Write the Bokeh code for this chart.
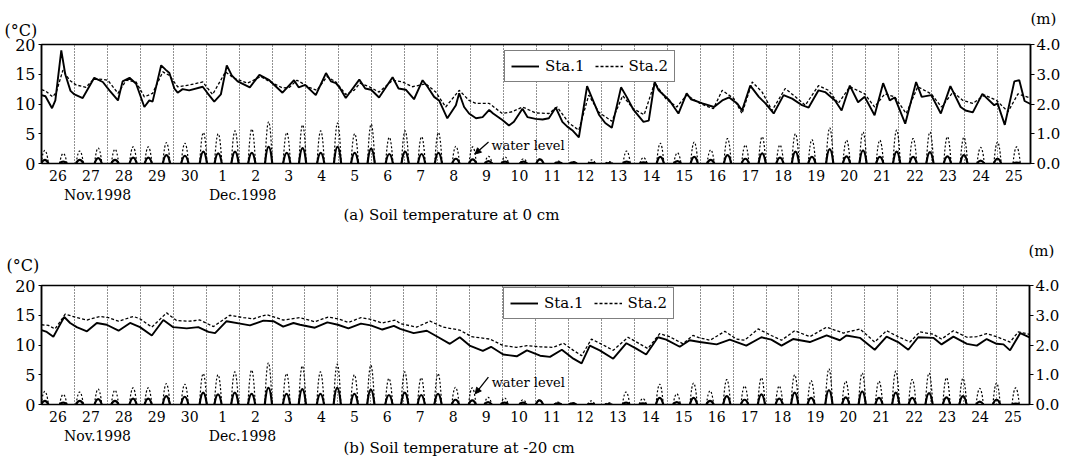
from bokeh.plotting import figure
from bokeh.models import (Range1d, LinearAxis, FixedTicker, Grid, Legend, LegendItem,
                          Label, Arrow, NormalHead, Title, ColumnDataSource,
                          NumeralTickFormatter)
from bokeh.layouts import column
from bokeh.embed import file_html
from bokeh.resources import INLINE

FONT = "DejaVu Serif"

# ---------------- data ----------------
days = ["26", "27", "28", "29", "30", "1", "2", "3", "4", "5", "6", "7", "8", "9", "10",
        "11", "12", "13", "14", "15", "16", "17", "18", "19", "20", "21", "22", "23", "24", "25"]
month_labels = ["Nov.1998", "Dec.1998"]
month_at = [1.7, 6.1]           # day position (days since 26 Nov 00:00) under which month is written
temp_ticks = [0, 5, 10, 15, 20]
level_ticks = [0, 1, 2, 3, 4]

# (a) soil temperature at 0 cm : (day, degC)
a_sta1 = [
    (0.00, 11.5), (0.12, 11.3), (0.32, 9.3), (0.42, 10.6), (0.60, 19.0), (0.72, 15.0), (0.88, 12.2),
    (1.00, 11.6), (1.25, 11.0), (1.60, 14.4), (1.86, 13.7),
    (2.06, 12.3), (2.32, 10.6), (2.46, 13.8), (2.67, 14.4), (2.87, 13.4),
    (3.12, 9.5), (3.27, 10.6), (3.37, 10.4), (3.63, 16.5), (3.78, 15.7), (3.88, 15.2),
    (4.03, 12.6), (4.13, 11.9), (4.28, 12.5), (4.48, 12.3), (4.89, 12.9),
    (5.04, 11.8), (5.24, 10.4), (5.44, 11.6), (5.62, 16.5), (5.77, 14.8), (5.95, 13.8),
    (6.32, 12.8), (6.61, 14.9), (6.91, 14.0),
    (7.31, 11.9), (7.66, 14.0), (7.80, 12.8),
    (8.00, 13.2), (8.32, 11.5), (8.63, 15.2), (8.78, 13.8), (8.93, 13.5),
    (9.05, 12.7), (9.23, 11.0), (9.64, 14.1), (9.82, 12.6),
    (10.00, 12.4), (10.24, 11.1), (10.65, 14.5), (10.83, 12.6),
    (11.05, 12.4), (11.30, 10.8), (11.56, 14.0), (11.71, 12.9), (11.91, 11.2),
    (12.06, 10.6), (12.31, 7.6), (12.57, 9.8), (12.67, 11.8), (12.82, 9.5), (12.97, 8.4),
    (13.18, 7.6), (13.38, 7.8), (13.58, 9.0), (13.70, 8.4), (13.98, 7.3),
    (14.18, 6.4), (14.33, 7.0), (14.59, 9.2), (14.74, 7.8), (14.99, 7.5),
    (15.20, 7.4), (15.39, 7.6), (15.60, 9.4), (15.80, 7.0), (15.95, 6.2),
    (16.10, 5.6), (16.30, 4.4), (16.55, 13.0), (16.70, 11.0), (16.91, 8.2),
    (17.10, 6.8), (17.30, 6.0), (17.58, 12.8), (17.75, 11.2), (17.96, 9.0),
    (18.26, 7.0), (18.42, 7.2), (18.60, 13.7), (18.72, 12.3),
    (19.05, 10.6), (19.32, 8.4), (19.57, 11.8), (19.70, 10.8),
    (20.05, 10.1), (20.40, 9.5), (20.65, 10.6), (20.86, 11.1),
    (21.10, 10.1), (21.25, 8.9), (21.50, 13.1), (21.76, 11.2), (21.96, 10.1),
    (22.21, 8.4), (22.51, 11.5), (22.77, 10.9),
    (23.07, 9.8), (23.27, 9.4), (23.57, 12.3), (23.77, 12.0),
    (24.07, 10.6), (24.27, 8.9), (24.52, 13.1), (24.77, 10.3), (24.97, 11.2),
    (25.27, 8.1), (25.53, 13.5), (25.73, 10.6), (25.88, 11.1),
    (26.20, 6.7), (26.53, 13.7), (26.70, 11.2), (26.99, 11.5),
    (27.28, 8.4), (27.57, 13.0), (27.88, 9.5),
    (28.03, 8.9), (28.25, 8.6), (28.54, 11.7), (28.90, 9.8),
    (29.00, 10.1), (29.22, 6.5), (29.51, 13.8), (29.66, 14.0), (29.82, 10.5), (30.00, 10.0),
]
a_sta2 = [
    (0.00, 12.4), (0.12, 12.2), (0.34, 11.2), (0.45, 12.0), (0.65, 15.7), (0.85, 14.0),
    (1.05, 13.2), (1.35, 12.8), (1.60, 14.3),
    (2.01, 14.0), (2.32, 11.8), (2.57, 14.0), (2.87, 13.7),
    (3.12, 11.2), (3.37, 11.8), (3.68, 15.4), (3.88, 14.8),
    (4.13, 12.9), (4.48, 13.2), (4.89, 13.7),
    (5.19, 11.6), (5.58, 15.4), (5.85, 14.3),
    (6.25, 13.5), (6.65, 14.6), (6.91, 13.8),
    (7.31, 12.7), (7.52, 12.8), (7.75, 14.0),
    (8.12, 12.8), (8.35, 12.3), (8.66, 14.6), (8.93, 13.7),
    (9.23, 11.6), (9.48, 12.3), (9.66, 13.5), (9.94, 12.9),
    (10.24, 12.0), (10.65, 14.0), (10.95, 13.7),
    (11.25, 12.9), (11.66, 13.4), (11.96, 12.0),
    (12.26, 9.5), (12.67, 12.3), (12.97, 10.6),
    (13.18, 10.1), (13.58, 10.1), (13.98, 8.4),
    (14.28, 8.7), (14.59, 9.5), (14.99, 8.5),
    (15.39, 8.4), (15.64, 9.5), (16.00, 6.8),
    (16.30, 5.6), (16.60, 11.5), (16.91, 8.6),
    (17.30, 7.1), (17.63, 11.4), (17.95, 9.2),
    (18.28, 8.2), (18.60, 13.6), (18.95, 10.8),
    (19.27, 9.5), (19.57, 11.5), (19.97, 10.1),
    (20.38, 9.2), (20.65, 12.3), (21.00, 10.9),
    (21.25, 8.4), (21.56, 13.7), (21.86, 12.0),
    (22.16, 8.9), (22.56, 12.6), (22.87, 11.2),
    (23.17, 9.8), (23.57, 13.1), (23.87, 12.3),
    (24.17, 10.1), (24.52, 12.9), (24.97, 11.7),
    (25.27, 9.5), (25.58, 11.7), (25.88, 11.2),
    (26.23, 8.4), (26.58, 12.9), (26.99, 11.7),
    (27.30, 9.5), (27.65, 12.0), (27.95, 10.6),
    (28.25, 10.1), (28.61, 11.5), (28.97, 10.6),
    (29.32, 8.7), (29.62, 11.7), (30.00, 11.0),
]

# (b) soil temperature at -20 cm : (day, degC)
b_sta1 = [
    (0.00, 12.5), (0.16, 12.2), (0.36, 11.4), (0.52, 13.0), (0.69, 14.7), (0.87, 13.7),
    (1.07, 13.0), (1.38, 12.3), (1.68, 13.7), (1.98, 13.4),
    (2.34, 12.4), (2.69, 13.7), (2.99, 13.0),
    (3.35, 11.6), (3.70, 14.2), (4.00, 13.0),
    (4.41, 12.8), (4.76, 13.0), (5.07, 12.2), (5.27, 12.0), (5.62, 14.0),
    (6.03, 13.6), (6.33, 13.3), (6.74, 14.1), (7.04, 14.0),
    (7.34, 13.1), (7.65, 13.7), (7.85, 13.4),
    (8.30, 12.9), (8.68, 13.8), (9.00, 13.4),
    (9.32, 12.8), (9.70, 13.6), (10.00, 13.3),
    (10.35, 12.6), (10.70, 13.2), (10.89, 12.7),
    (11.30, 12.0), (11.70, 12.4), (12.05, 11.3),
    (12.40, 10.2), (12.70, 11.3), (13.00, 9.9),
    (13.40, 9.0), (13.65, 9.7), (14.02, 8.4),
    (14.43, 8.1), (14.74, 9.1), (15.14, 8.2),
    (15.44, 8.0), (15.80, 9.2), (16.15, 7.7),
    (16.40, 6.9), (16.65, 9.9), (16.95, 9.1),
    (17.36, 7.7), (17.76, 10.3), (18.06, 9.4),
    (18.36, 8.4), (18.72, 11.3), (18.97, 10.9),
    (19.38, 9.7), (19.68, 10.8), (19.99, 10.5),
    (20.50, 10.1), (20.90, 10.9), (21.40, 9.9),
    (21.86, 11.3), (22.16, 10.9), (22.47, 9.9),
    (22.82, 11.0), (23.33, 10.5), (23.84, 11.6),
    (24.24, 10.8), (24.44, 11.6), (24.85, 11.2),
    (25.30, 9.2), (25.66, 11.4), (26.01, 10.5),
    (26.32, 9.2), (26.62, 11.3), (27.08, 11.2),
    (27.33, 10.1), (27.69, 11.4), (28.10, 10.2),
    (28.40, 9.9), (28.70, 11.0), (29.00, 10.2),
    (29.21, 10.1), (29.41, 9.1), (29.72, 12.0), (30.00, 11.3),
]
b_sta2 = [
    (0.00, 13.4), (0.21, 13.3), (0.41, 12.7), (0.55, 13.8), (0.72, 15.2),
    (1.07, 14.6), (1.38, 14.2), (1.78, 14.8),
    (2.03, 14.6), (2.34, 14.0), (2.79, 14.8), (2.99, 14.4),
    (3.35, 13.0), (3.80, 15.4), (4.10, 14.1),
    (4.50, 14.0), (4.81, 14.2), (5.22, 13.1), (5.72, 15.0),
    (6.13, 14.6), (6.43, 14.4), (6.84, 15.1),
    (7.34, 14.2), (7.85, 14.6), (8.30, 13.9), (8.70, 14.7),
    (9.00, 14.4), (9.32, 13.8), (9.70, 14.6), (10.00, 14.3),
    (10.35, 13.7), (10.75, 14.2), (10.89, 13.6),
    (11.39, 13.0), (11.80, 14.0), (12.20, 13.0),
    (12.70, 12.5), (13.06, 11.4), (13.61, 11.0),
    (14.02, 9.9), (14.43, 9.6), (14.74, 9.9),
    (15.14, 9.7), (15.54, 9.6), (15.85, 10.3),
    (16.15, 9.1), (16.40, 8.2), (16.70, 11.0), (16.95, 10.3),
    (17.36, 9.1), (17.81, 11.3), (18.16, 10.2),
    (18.41, 9.4), (18.77, 11.9), (19.07, 11.4),
    (19.48, 10.2), (19.78, 11.6), (19.99, 11.2),
    (20.30, 10.8), (20.75, 12.3), (21.10, 11.0),
    (21.35, 10.8), (21.76, 12.7), (22.16, 11.6),
    (22.47, 10.8), (22.87, 12.4), (23.33, 11.4),
    (23.84, 13.0), (24.35, 12.0), (24.85, 12.7),
    (25.30, 10.5), (25.66, 12.4), (26.01, 11.4),
    (26.37, 10.5), (26.67, 12.2), (27.08, 11.8),
    (27.33, 11.0), (27.69, 12.4), (28.10, 11.3),
    (28.40, 11.4), (28.70, 11.9), (29.00, 11.4),
    (29.41, 10.5), (29.66, 12.2), (30.00, 11.8),
]

# water level (m): times of the tidal peaks (day) and their heights at each station
wl_peak_day = [0.10, 0.66, 1.16, 1.72, 2.23, 2.78, 3.24, 3.79, 4.35, 4.91,
               5.36, 5.87, 6.38, 6.89, 7.44, 7.92, 8.47, 8.98, 9.50, 10.00,
               10.55, 11.03, 11.53, 12.04, 12.57, 13.08, 13.56, 14.06, 14.62, 15.12,
               15.68, 16.13, 16.69, 17.22, 17.75, 18.26, 18.77, 19.29, 19.80, 20.30,
               20.81, 21.35, 21.86, 22.40, 22.87, 23.37, 23.91, 24.42, 24.92, 25.43,
               25.94, 26.44, 26.95, 27.48, 27.98, 28.49, 29.00, 29.58]
wl_sta2 = [0.44, 0.34, 0.42, 0.52, 0.48, 0.56, 0.56, 0.70, 0.68, 1.04,
           1.00, 1.10, 1.16, 1.40, 1.04, 1.30, 1.10, 1.36, 1.00, 1.32,
           0.88, 1.10, 0.90, 1.04, 0.58, 0.56, 0.24, 0.22, 0.16, 0.16,
           0.08, 0.06, 0.12, 0.06, 0.42, 0.20, 0.68, 0.36, 0.72, 0.46,
           0.84, 0.62, 0.90, 0.62, 1.00, 0.80, 1.20, 0.78, 1.06, 0.78,
           1.12, 0.84, 1.06, 0.90, 0.88, 0.54, 0.72, 0.56]
wl_sta1 = [0.12, 0.06, 0.12, 0.18, 0.12, 0.20, 0.20, 0.28, 0.26, 0.40,
           0.34, 0.40, 0.36, 0.56, 0.36, 0.52, 0.36, 0.56, 0.36, 0.50,
           0.32, 0.40, 0.32, 0.36, 0.16, 0.14, 0.08, 0.06, 0.06, 0.14,
           0.04, 0.04, 0.02, 0.01, 0.06, 0.04, 0.22, 0.08, 0.22, 0.12,
           0.28, 0.16, 0.34, 0.20, 0.40, 0.22, 0.48, 0.24, 0.44, 0.22,
           0.40, 0.22, 0.38, 0.24, 0.28, 0.10, 0.16, 0.03]

# ---------------- drawing ----------------
HW = 0.11  # half width of a tide hump (days) - shape only


def hump_source(peaks, heights):
    return ColumnDataSource(dict(
        x0=[t - HW for t in peaks], y0=[0.0] * len(peaks),
        x1=[t + HW for t in peaks], y1=[0.0] * len(peaks),
        cx0=[t - HW * 0.35 for t in peaks], cy0=[h * 4.0 / 3.0 for h in heights],
        cx1=[t + HW * 0.35 for t in peaks], cy1=[h * 4.0 / 3.0 for h in heights],
    ))


def build(sta1, sta2, title_text, legend_xy, bl, br, bt, bb, fw,
          note_xy, arrow_xy, c_standoff, m_standoff, degc_off, m_off, title_standoff):
    p = figure(frame_width=fw, frame_height=119,
               x_range=Range1d(0, len(days)), y_range=Range1d(0, 20),
               x_axis_type=None, y_axis_type=None,
               output_backend="svg", toolbar_location=None,
               min_border_left=bl, min_border_right=br,
               min_border_top=bt, min_border_bottom=bb,
               outline_line_color="black", outline_line_width=1.5,
               background_fill_color="white", border_fill_color="white")
    p.extra_y_ranges = {"m": Range1d(0, 4)}

    bounds = list(range(1, len(days)))
    p.add_layout(Grid(dimension=0, ticker=FixedTicker(ticks=bounds),
                      grid_line_color="#222222", grid_line_dash="1 2", grid_line_width=1))

    left = LinearAxis(ticker=FixedTicker(ticks=temp_ticks),
                      major_label_text_font=FONT, major_label_text_font_size="16px",
                      major_label_text_color="black",
                      axis_line_color="black", axis_line_width=1.5,
                      major_tick_out=3, major_tick_in=0, major_tick_line_color="black",
                      minor_tick_line_color=None, major_label_standoff=3)
    p.add_layout(left, "left")

    right = LinearAxis(y_range_name="m", ticker=FixedTicker(ticks=level_ticks),
                       formatter=NumeralTickFormatter(format="0.0"),
                       major_label_text_font=FONT, major_label_text_font_size="15px",
                       major_label_text_color="black",
                       axis_line_color="black", axis_line_width=1.5,
                       major_tick_out=4, major_tick_in=0, major_tick_line_color="black",
                       minor_tick_line_color=None, major_label_standoff=2)
    p.add_layout(right, "right")

    centers = [i + 0.5 for i in range(len(days))]
    day_axis = LinearAxis(ticker=FixedTicker(ticks=centers),
                          major_label_overrides={c: d for c, d in zip(centers, days)},
                          major_label_text_font=FONT, major_label_text_font_size="14px",
                          major_label_text_color="black",
                          axis_line_color=None, major_tick_line_color=None,
                          minor_tick_line_color=None, major_label_standoff=0)
    p.add_layout(day_axis, "below")

    month_axis = LinearAxis(ticker=FixedTicker(ticks=month_at),
                            major_label_overrides={c: m for c, m in zip(month_at, month_labels)},
                            major_label_text_font=FONT, major_label_text_font_size="14px",
                            major_label_text_color="black",
                            axis_line_color=None, major_tick_line_color=None,
                            minor_tick_line_color=None, major_label_standoff=-3)
    p.add_layout(month_axis, "below")

    p.add_layout(Title(text=title_text, align="left", offset=302, vertical_align="top",
                       text_font=FONT, text_font_size="15px", text_font_style="normal",
                       text_color="black", standoff=title_standoff), "below")

    # unit captions above the two value axes
    p.add_layout(Title(text="(°C)", align="left", offset=degc_off,
                       text_font=FONT, text_font_size="16px", text_font_style="normal",
                       text_color="black", standoff=c_standoff), "above")
    p.add_layout(Title(text="(m)", align="left", offset=m_off,
                       text_font=FONT, text_font_size="15px", text_font_style="normal",
                       text_color="black", standoff=m_standoff), "above")

    # water level humps
    p.bezier(x0="x0", y0="y0", x1="x1", y1="y1", cx0="cx0", cy0="cy0", cx1="cx1", cy1="cy1",
             source=hump_source(wl_peak_day, wl_sta2), y_range_name="m",
             line_color="black", line_width=1.2, line_dash="2 2")
    p.bezier(x0="x0", y0="y0", x1="x1", y1="y1", cx0="cx0", cy0="cy0", cx1="cx1", cy1="cy1",
             source=hump_source(wl_peak_day, wl_sta1), y_range_name="m",
             line_color="black", line_width=2.2)

    t1, v1 = zip(*sta1)
    t2, v2 = zip(*sta2)
    r2 = p.line(list(t2), list(v2), line_color="black", line_width=1.3, line_dash="3 2")
    r1 = p.line(list(t1), list(v1), line_color="black", line_width=1.9)

    legend = Legend(items=[LegendItem(label="Sta.1", renderers=[r1]),
                           LegendItem(label="Sta.2", renderers=[r2])],
                    location=legend_xy, orientation="horizontal",
                    border_line_color="black", border_line_width=1.5,
                    background_fill_color="white", background_fill_alpha=1.0,
                    label_text_font=FONT, label_text_font_size="15px",
                    label_text_color="black",
                    glyph_width=28, glyph_height=16, label_standoff=6,
                    spacing=10, padding=6, margin=0)
    p.add_layout(legend)

    p.add_layout(Label(x=note_xy[0], y=note_xy[1], text="water level",
                       text_font=FONT, text_font_size="13px", text_baseline="middle",
                       text_color="black"))
    p.add_layout(Arrow(end=NormalHead(size=6, fill_color="black", line_color="black"),
                       x_start=arrow_xy[0], y_start=arrow_xy[1],
                       x_end=arrow_xy[2], y_end=arrow_xy[3],
                       line_color="black", line_width=1.3))
    return p


p_top = build(a_sta1, a_sta2, "(a) Soil temperature at 0 cm", (463, 81),
              38, 41, 44, 69, 989,
              (13.65, 3.0), (13.56, 3.6, 13.15, 1.6),
              9, -26, -37, 989, 0)
p_bot = build(b_sta1, b_sta2, "(b) Soil temperature at -20 cm", (462, 85),
              41, 39, 53, 60, 988,
              (13.67, 3.75), (13.57, 4.6, 13.17, 1.8),
              22, -34, -35, 987, -15)

layout = column(p_top, p_bot)
open("out.html", "w").write(file_html(layout, INLINE, title="Soil temperature"))
